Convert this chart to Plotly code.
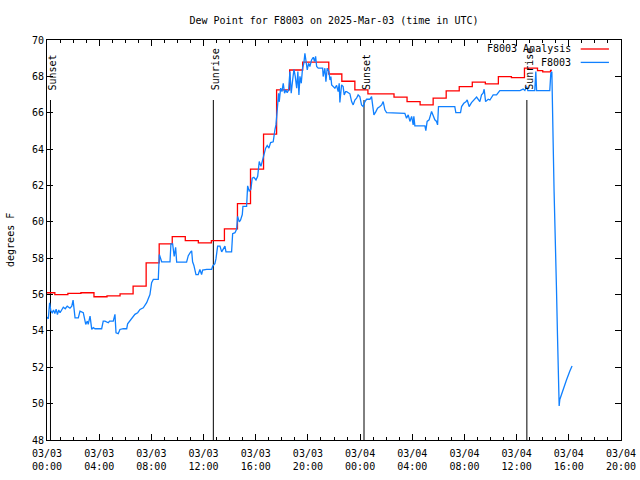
import pandas as pd
import plotly.graph_objects as go

BASE = pd.Timestamp("2025-03-03 00:00")

# Analysis (hourly step values), hours since 03/03 00:00 UTC
red_hours = [0.0, 0.6, 1.6, 2.6, 3.6, 4.6, 5.6, 6.6, 7.6, 8.6, 9.6, 10.6, 11.6, 12.6,
             13.6, 14.6, 15.6, 16.6, 17.6, 18.6, 19.6, 20.6, 21.6, 22.6, 23.6, 24.6,
             25.6, 26.6, 27.6, 28.6, 29.6, 30.6, 31.6, 32.6, 33.6, 34.6, 35.6, 36.6,
             37.6, 38.0, 38.6, 38.7]
red_vals = [56.10, 56.00, 56.06, 56.10, 55.88, 55.93, 56.04, 56.46, 57.74, 58.79, 59.19,
            58.97, 58.84, 58.97, 59.61, 61.00, 62.90, 64.82, 67.26, 68.35, 68.78, 68.78,
            68.13, 67.73, 67.26, 67.04, 67.04, 66.86, 66.61, 66.43, 66.80, 67.20, 67.44,
            67.68, 67.59, 67.99, 67.93, 68.45, 68.32, 68.25, 68.33, 68.33]

# Observations
blue_hours = [0.00, 0.10, 0.20, 0.30, 0.40, 0.50, 0.60, 0.70, 0.80, 0.90, 1.00, 1.13, 1.25,
              1.40, 1.55, 1.76, 1.90, 2.00, 2.15, 2.40, 2.53, 2.78, 2.86, 2.97, 3.09, 3.16,
              3.30, 3.43, 3.55, 3.68, 4.19, 4.31, 4.44, 4.70, 4.80, 5.08, 5.21, 5.29, 5.46,
              5.59, 5.85, 6.11, 6.18, 6.36, 6.54, 6.74, 6.95, 7.13, 7.38, 7.51, 7.64, 7.89,
              8.02, 8.15, 8.53, 8.61, 8.79, 9.43, 9.50, 9.63, 9.75, 9.86, 9.94, 10.70, 10.83,
              11.01, 11.09, 11.16, 11.26, 11.42, 11.59, 11.72, 11.85, 11.93, 12.24, 12.62,
              12.70, 12.87, 12.95, 13.08, 13.26, 13.39, 13.51, 13.64, 13.72, 14.15, 14.23,
              14.41, 14.54, 14.61, 14.74, 14.84, 14.97, 15.02, 15.30, 15.38, 15.50, 15.63,
              15.73, 15.86, 16.02, 16.15, 16.27, 16.40, 16.53, 16.63, 16.76, 16.88, 17.01,
              17.14, 17.34, 17.47, 17.55, 17.65, 17.75, 17.80, 17.91, 18.01, 18.11, 18.21,
              18.31, 18.41, 18.52, 18.62, 18.72, 18.83, 18.93, 19.03, 19.14, 19.23, 19.31,
              19.39, 19.49, 19.59, 19.69, 19.77, 19.85, 19.95, 20.05, 20.15, 20.28, 20.41,
              20.51, 20.59, 20.67, 20.79, 21.13, 21.17, 21.30, 21.38, 21.48, 21.61, 21.69,
              21.76, 21.82, 21.94, 22.07, 22.20, 22.32, 22.40, 22.45, 22.58, 22.70, 22.78,
              22.89, 22.97, 23.22, 23.35, 23.47, 23.60, 23.73, 23.85, 23.98, 24.11, 24.24,
              24.37, 24.50, 24.75, 24.88, 24.96, 25.06, 25.21, 25.34, 25.52, 25.65, 25.77,
              25.90, 26.03, 27.28, 27.43, 27.56, 27.69, 27.82, 27.95, 28.07, 28.12, 28.20,
              28.97, 29.04, 29.14, 29.29, 29.48, 29.73, 29.86, 29.94, 30.01, 31.26, 31.34,
              31.70, 31.78, 31.95, 32.11, 32.21, 32.36, 32.54, 32.72, 32.93, 33.18, 33.31,
              33.43, 33.51, 33.62, 33.82, 33.95, 34.08, 34.20, 34.46, 34.66, 34.71, 36.25,
              36.50, 36.63, 36.76, 36.86, 37.39, 37.47, 37.53, 38.54, 38.62, 38.70, 38.72,
              38.80, 38.87, 38.98, 39.05, 39.13, 39.21, 39.26, 39.31, 39.56, 39.82, 40.08,
              40.25]
blue_vals = [54.76, 54.67, 55.55, 55.09, 55.00, 55.15, 54.95, 55.20, 54.90, 55.15, 55.00, 55.20,
             55.30, 55.22, 55.36, 55.25, 55.36, 55.69, 54.72, 54.72, 55.09, 55.00, 54.67, 54.36,
             54.54, 54.36, 54.81, 54.08, 54.18, 54.12, 54.12, 54.54, 54.54, 54.45, 54.54, 54.54,
             54.91, 53.90, 53.85, 54.08, 54.12, 54.12, 54.39, 54.54, 54.72, 54.91, 55.00, 55.18,
             55.27, 55.45, 55.55, 56.00, 56.65, 56.83, 56.83, 58.20, 57.80, 57.80, 58.79, 58.79,
             58.10, 58.60, 57.78, 57.78, 58.14, 58.35, 58.40, 57.80, 57.60, 57.10, 57.10, 57.38,
             57.10, 57.34, 57.38, 57.38, 57.56, 57.70, 57.96, 58.66, 58.66, 58.35, 58.50, 58.66,
             58.35, 58.35, 59.35, 59.40, 59.60, 60.30, 60.00, 60.10, 60.40, 60.85, 60.85, 61.98,
             61.70, 61.80, 62.40, 62.45, 62.30, 62.50, 63.32, 63.05, 63.41, 63.78, 64.05, 64.20,
             64.05, 64.36, 64.40, 65.06, 65.33, 66.16, 67.07, 66.60, 67.35, 67.16, 67.62, 67.07,
             67.25, 67.10, 67.25, 68.26, 67.07, 67.80, 68.39, 68.00, 67.35, 68.26, 66.98, 68.00,
             67.62, 68.45, 68.72, 69.27, 68.82, 68.35, 68.72, 68.54, 68.90, 69.05, 68.82, 69.10,
             68.54, 68.45, 68.45, 67.99, 68.45, 67.71, 68.45, 68.26, 67.80, 67.99, 67.53, 67.44,
             67.35, 67.50, 67.16, 67.62, 66.56, 67.53, 67.44, 66.98, 67.16, 67.16, 67.04, 66.61,
             66.43, 66.70, 66.80, 66.98, 66.89, 66.43, 66.34, 66.61, 66.74, 66.74, 66.89, 66.43,
             65.88, 66.06, 66.25, 66.34, 66.43, 66.61, 66.16, 66.01, 66.01, 65.97, 65.70, 65.88,
             65.52, 65.80, 65.33, 65.80, 65.28, 65.28, 65.02, 65.52, 65.61, 66.07, 65.61, 65.52,
             65.33, 66.34, 66.34, 66.01, 66.01, 66.34, 66.52, 66.60, 66.70, 66.34, 66.56, 66.70,
             66.86, 66.61, 66.98, 67.07, 67.29, 66.61, 66.74, 66.70, 66.86, 66.98, 66.98, 67.16,
             67.22, 67.22, 67.30, 67.22, 67.44, 67.22, 67.22, 68.26, 67.22, 67.22, 68.17, 68.26,
             66.89, 64.33, 61.68, 59.08, 56.46, 53.80, 51.18, 49.87, 50.23, 50.78, 51.30, 51.79,
             52.07]

sun_labels = ["Sunset", "Sunrise", "Sunset", "Sunrise"]
sun_times = ["2025-03-03 00:16", "2025-03-03 12:45", "2025-03-04 00:18", "2025-03-04 12:47"]

y_ticks = [48, 50, 52, 54, 56, 58, 60, 62, 64, 66, 68, 70]

FONT = "DejaVu Sans Mono"
RED = "#ff0000"
BLUE = "#1080ff"


def to_time(hours):
    return BASE + pd.to_timedelta(pd.Series(hours), unit="h")


fig = go.Figure()
fig.add_trace(go.Scatter(x=to_time(red_hours), y=red_vals, mode="lines",
                         line=dict(color=RED, width=1.3, shape="hv"),
                         name="F8003 Analysis", showlegend=False))
fig.add_trace(go.Scatter(x=to_time(blue_hours), y=blue_vals, mode="lines",
                         line=dict(color=BLUE, width=1.3),
                         name="F8003", showlegend=False))

for lab, t in zip(sun_labels, sun_times):
    fig.add_shape(type="line", xref="x", yref="paper", x0=t, x1=t, y0=0, y1=0.85,
                  line=dict(color="black", width=1), layer="below")
    fig.add_annotation(x=t, xref="x", y=0.87, yref="paper", text=lab, textangle=-90,
                       showarrow=False, xanchor="center", yanchor="bottom", xshift=2,
                       font=dict(family=FONT, size=10, color="black"))

# legend drawn gnuplot-style (text left, sample right)
for name, col, yy in [("F8003 Analysis", RED, 0.9775), ("F8003", BLUE, 0.944)]:
    fig.add_annotation(x=0.9164, xref="paper", y=yy, yref="paper", text=name,
                       showarrow=False, xanchor="right", yanchor="middle",
                       font=dict(family=FONT, size=10, color="black"))
    fig.add_shape(type="line", xref="paper", yref="paper", x0=0.9298, x1=0.979,
                  y0=yy, y1=yy, line=dict(color=col, width=1.3))

fig.add_annotation(x=-0.0645, xref="paper", y=0.5, yref="paper", text="degrees F",
                   textangle=-90, showarrow=False, xanchor="center", yanchor="middle",
                   font=dict(family=FONT, size=10, color="black"))

fig.update_layout(
    width=640, height=480,
    margin=dict(l=47, r=19, t=40, b=40, autoexpand=False),
    paper_bgcolor="white", plot_bgcolor="white",
    title=dict(text="Dew Point for F8003 on 2025-Mar-03 (time in UTC)",
               x=0.5, xref="paper", y=1 - 20 / 480, yanchor="middle",
               font=dict(family=FONT, size=10, color="black")),
    font=dict(family=FONT, size=10, color="black"),
    showlegend=False,
)
fig.update_xaxes(
    range=["2025-03-03 00:00", "2025-03-04 20:00"],
    tickmode="linear", tick0="2025-03-03 00:00", dtick=4 * 3600 * 1000,
    tickformat="%m/%d<br>%H:%M",
    ticks="inside", ticklen=6, tickcolor="black",
    minor=dict(dtick=3600 * 1000, ticks="inside", ticklen=3, tickcolor="black", showgrid=False),
    showline=True, linecolor="black", linewidth=1, mirror="ticks",
    showgrid=False, zeroline=False, automargin=False, ticklabelstandoff=4,
    tickfont=dict(family=FONT, size=10, color="black"),
)
fig.update_yaxes(
    range=[48, 70], tickmode="array", tickvals=y_ticks,
    ticks="inside", ticklen=6, tickcolor="black",
    showline=True, linecolor="black", linewidth=1, mirror="ticks",
    showgrid=False, zeroline=False, automargin=False,
    tickfont=dict(family=FONT, size=10, color="black"),
)

fig.write_html("out.html")
